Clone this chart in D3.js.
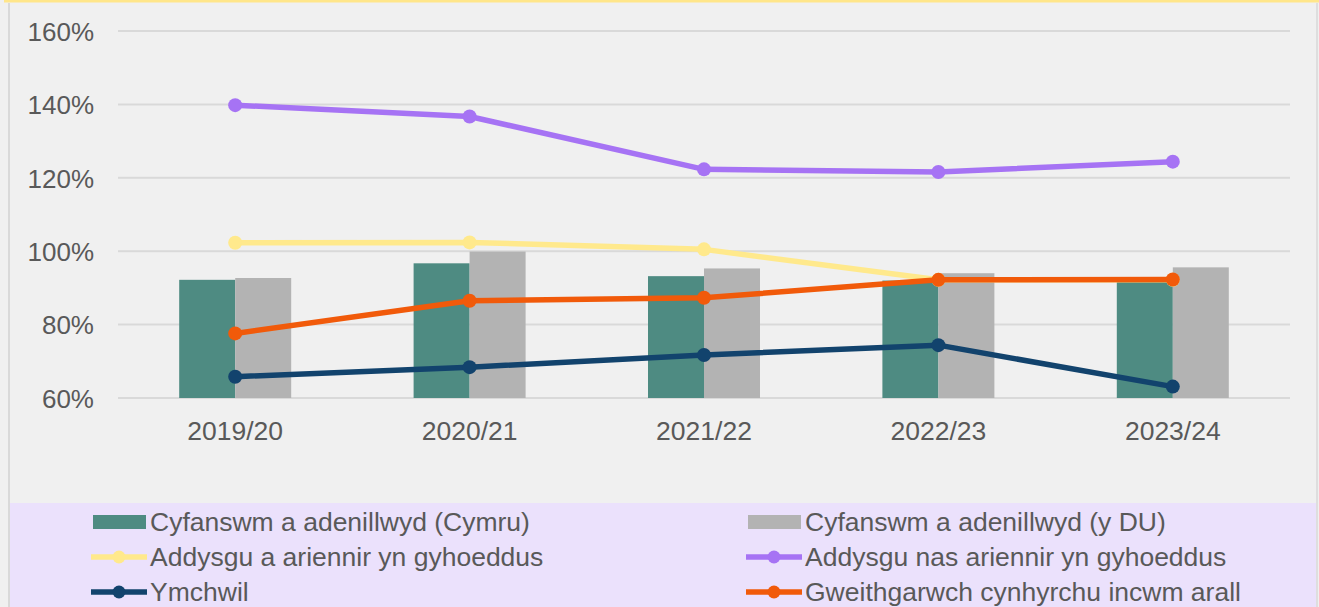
<!DOCTYPE html>
<html>
<head>
<meta charset="utf-8">
<script src="https://cdn.jsdelivr.net/npm/d3@7"></script>
<style>
  body { margin: 0; background: #f0f0f0; }
  svg { display: block; font-family: "Liberation Sans", Arial, sans-serif; }
</style>
</head>
<body>
<script>
// data
var years = ["2019/20", "2020/21", "2021/22", "2022/23", "2023/24"];
var cymruTotal = [92.2, 96.7, 93.2, 92.0, 92.0];
var ukTotal = [92.7, 99.9, 95.3, 94.0, 95.6];
var publicTeaching = [102.3, 102.4, 100.5, 92.2, 92.2];
var nonPublicTeaching = [139.8, 136.7, 122.3, 121.6, 124.4];
var research = [65.8, 68.4, 71.7, 74.4, 63.1];
var otherIncome = [77.6, 86.5, 87.3, 92.2, 92.3];
var yTicks = [60, 80, 100, 120, 140, 160];

var barSeries = [
  {name: "Cyfanswm a adenillwyd (Cymru)", values: cymruTotal, color: "#4e8b82"},
  {name: "Cyfanswm a adenillwyd (y DU)", values: ukTotal, color: "#b3b3b3"}
];
var lineSeries = [
  {name: "Addysgu a ariennir yn gyhoeddus", values: publicTeaching, color: "#ffe98c"},
  {name: "Addysgu nas ariennir yn gyhoeddus", values: nonPublicTeaching, color: "#a673f4"},
  {name: "Ymchwil", values: research, color: "#12436d"},
  {name: "Gweithgarwch cynhyrchu incwm arall", values: otherIncome, color: "#f15a0a"}
];

var W = 1319, H = 607;
var svg = d3.select("body").append("svg")
  .attr("width", W)
  .attr("height", H);

// panel background and frame
svg.append("rect").attr("x", 0).attr("y", 0).attr("width", W).attr("height", H).attr("fill", "#f0f0f0");
svg.append("rect").attr("x", 10).attr("y", 503).attr("width", 1306).attr("height", 104).attr("fill", "#ebe1fc");
svg.append("line").attr("x1", 4).attr("x2", W).attr("y1", 1).attr("y2", 1)
  .attr("stroke", "#ffe68a").attr("stroke-width", 3);
svg.append("line").attr("x1", 9).attr("x2", 9).attr("y1", 3).attr("y2", H)
  .attr("stroke", "#d9d9d9").attr("stroke-width", 2);
svg.append("line").attr("x1", 1317).attr("x2", 1317).attr("y1", 3).attr("y2", H)
  .attr("stroke", "#d9d9d9").attr("stroke-width", 1.5);

var x = d3.scaleBand()
  .domain(years)
  .range([118, 1290]);

var y = d3.scaleLinear()
  .domain([60, 160])
  .range([398, 31]);

// gridlines
svg.append("g")
  .selectAll("line")
  .data(yTicks)
  .enter()
  .append("line")
  .attr("x1", 118)
  .attr("x2", 1290)
  .attr("y1", function(d) { return y(d); })
  .attr("y2", function(d) { return y(d); })
  .attr("stroke", "#d9d9d9")
  .attr("stroke-width", 2);

// y axis labels
var yAxis = svg.append("g")
  .attr("transform", "translate(94,0)")
  .call(d3.axisLeft(y).tickValues(yTicks).tickSize(0).tickPadding(0)
    .tickFormat(function(d) { return d + "%"; }));
yAxis.select(".domain").remove();
yAxis.selectAll("text")
  .attr("fill", "#595959")
  .attr("dy", "0.36em")
  .style("font-size", "26px")
  .style("font-family", "Liberation Sans, Arial, sans-serif");

// x axis labels
var xAxis = svg.append("g")
  .attr("transform", "translate(0,421)")
  .call(d3.axisBottom(x).tickSize(0).tickPadding(0));
xAxis.select(".domain").remove();
xAxis.selectAll("text")
  .attr("fill", "#595959")
  .style("font-size", "26.5px")
  .style("font-family", "Liberation Sans, Arial, sans-serif");

// bars
var inner = d3.scaleBand()
  .domain(barSeries.map(function(s) { return s.name; }))
  .range([0, 112]);

barSeries.forEach(function(s) {
  svg.append("g")
    .selectAll("rect")
    .data(s.values)
    .enter()
    .append("rect")
    .attr("x", function(d, i) { return x(years[i]) + x.bandwidth() / 2 - 56 + inner(s.name); })
    .attr("width", inner.bandwidth())
    .attr("y", function(d) { return y(d); })
    .attr("height", function(d) { return y(60) - y(d); })
    .attr("fill", s.color);
});

// lines
var line = d3.line()
  .x(function(d, i) { return x(years[i]) + x.bandwidth() / 2; })
  .y(function(d) { return y(d); });

lineSeries.forEach(function(s) {
  var g = svg.append("g");
  g.append("path")
    .datum(s.values)
    .attr("d", line)
    .attr("fill", "none")
    .attr("stroke", s.color)
    .attr("stroke-width", 5.5)
    .attr("stroke-linejoin", "round");
  g.selectAll("circle")
    .data(s.values)
    .enter()
    .append("circle")
    .attr("cx", function(d, i) { return x(years[i]) + x.bandwidth() / 2; })
    .attr("cy", function(d) { return y(d); })
    .attr("r", 7)
    .attr("fill", s.color);
});

// legend
var legendItems = [
  {s: barSeries[0], type: "bar", col: 0, row: 0},
  {s: barSeries[1], type: "bar", col: 1, row: 0},
  {s: lineSeries[0], type: "line", col: 0, row: 1},
  {s: lineSeries[1], type: "line", col: 1, row: 1},
  {s: lineSeries[2], type: "line", col: 0, row: 2},
  {s: lineSeries[3], type: "line", col: 1, row: 2}
];
var colX = [93, 748];
var rowY = [522, 557, 592];

var leg = svg.append("g")
  .selectAll("g")
  .data(legendItems)
  .enter()
  .append("g")
  .attr("transform", function(d) { return "translate(" + colX[d.col] + "," + rowY[d.row] + ")"; });

leg.each(function(d) {
  var g = d3.select(this);
  if (d.type === "bar") {
    g.append("rect").attr("x", 0).attr("y", -7).attr("width", 53).attr("height", 14).attr("fill", d.s.color);
  } else {
    g.append("line").attr("x1", -2).attr("x2", 54).attr("y1", 0).attr("y2", 0)
      .attr("stroke", d.s.color).attr("stroke-width", 5.5);
    g.append("circle").attr("cx", 26).attr("cy", 0).attr("r", 6.5).attr("fill", d.s.color);
  }
  g.append("text")
    .attr("x", 57)
    .attr("y", 9)
    .attr("fill", "#595959")
    .style("font-size", "26.5px")
    .text(d.s.name);
});
</script>
</body>
</html>
